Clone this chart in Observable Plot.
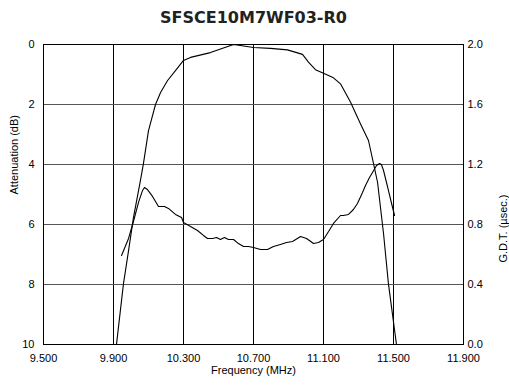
<!DOCTYPE html>
<html>
<head>
<meta charset="utf-8">
<script src="https://cdn.jsdelivr.net/npm/d3@7"></script>
<script src="https://cdn.jsdelivr.net/npm/@observablehq/plot@0.6"></script>
<style>
  html, body { margin: 0; padding: 0; background: #fff; }
  #chart svg text { font-family: "Liberation Sans", Arial, Helvetica, sans-serif; }
  #chart svg g.title text { font-family: "DejaVu Sans", Verdana, sans-serif; }
</style>
</head>
<body>
<div id="chart"></div>
<script>
const title = "SFSCE10M7WF03-R0";
const xLabel = "Frequency (MHz)";
const yLeftLabel = "Attenuation (dB)";
const yRightLabel = "G.D.T. (µsec.)";

const xTicks = [9.5, 9.9, 10.3, 10.7, 11.1, 11.5, 11.9];
const attTicks = [0, 2, 4, 6, 8, 10];
const gdtTicks = [2.0, 1.6, 1.2, 0.8, 0.4, 0.0];

// Attenuation curve (dB)
const attFreq = [9.917, 9.957, 9.986, 10.014, 10.054, 10.071, 10.1, 10.14, 10.169, 10.209, 10.254, 10.3, 10.34, 10.454, 10.586, 10.7, 10.797, 10.894, 10.98, 11.014, 11.054, 11.1, 11.157, 11.197, 11.254, 11.311, 11.357, 11.386, 11.409, 11.443, 11.471, 11.517];
const attVal  = [10, 7.97, 6.87, 5.77, 4.53, 3.97, 2.87, 2.0, 1.6, 1.2, 0.87, 0.53, 0.43, 0.27, 0, 0.1, 0.13, 0.18, 0.33, 0.59, 0.84, 0.96, 1.11, 1.31, 1.92, 2.64, 3.2, 3.97, 4.6, 6.3, 7.97, 10];

// Group delay time curve (µsec)
const gdtFreq = [9.946, 9.986, 10.014, 10.043, 10.066, 10.077, 10.094, 10.123, 10.157, 10.191, 10.214, 10.254, 10.289, 10.3, 10.34, 10.38, 10.414, 10.437, 10.466, 10.489, 10.511, 10.534, 10.557, 10.586, 10.614, 10.643, 10.671, 10.7, 10.74, 10.78, 10.814, 10.854, 10.889, 10.923, 10.969, 11.003, 11.043, 11.071, 11.1, 11.129, 11.157, 11.197, 11.214, 11.243, 11.271, 11.294, 11.323, 11.34, 11.363, 11.38, 11.403, 11.42, 11.431, 11.443, 11.46, 11.471, 11.489, 11.506];
const gdtVal  = [0.593, 0.707, 0.82, 0.947, 1.027, 1.047, 1.033, 0.987, 0.92, 0.92, 0.907, 0.867, 0.847, 0.813, 0.787, 0.76, 0.727, 0.707, 0.707, 0.713, 0.7, 0.713, 0.7, 0.7, 0.673, 0.653, 0.653, 0.647, 0.633, 0.633, 0.653, 0.667, 0.68, 0.687, 0.72, 0.707, 0.673, 0.68, 0.7, 0.753, 0.807, 0.86, 0.86, 0.867, 0.9, 0.94, 1.013, 1.06, 1.113, 1.147, 1.193, 1.207, 1.2, 1.16, 1.08, 1.027, 0.94, 0.86];

const attData = attFreq.map((f, i) => ({f, v: attVal[i]}));
// map GDT (0..2 µs, bottom..top) onto the attenuation scale (10..0 dB)
const gdtToAtt = g => 10 - 5 * g;
const gdtData = gdtFreq.map((f, i) => ({f, v: gdtToAtt(gdtVal[i])}));

const chart = Plot.plot({
  width: 509,
  height: 388,
  marginLeft: 43,
  marginRight: 46,
  marginTop: 44,
  marginBottom: 44,
  style: {fontFamily: "Liberation Sans, Arial, sans-serif", fontSize: "11px", color: "#000", background: "#fff", overflow: "visible"},
  x: {domain: [9.5, 11.9]},
  y: {domain: [0, 10], reverse: true},
  marks: [
    Plot.gridX(xTicks, {stroke: "#000", strokeOpacity: 1}),
    Plot.gridY(attTicks, {stroke: "#555", strokeOpacity: 1}),
    Plot.frame({stroke: "#000"}),
    Plot.axisX(xTicks, {tickSize: 0, tickPadding: 10, tickFormat: d => d.toFixed(3), label: null}),
    Plot.axisY(attTicks, {anchor: "left", tickSize: 0, tickPadding: 9, tickFormat: d => String(d), label: null}),
    Plot.axisY(gdtTicks.map(gdtToAtt), {anchor: "right", tickSize: 0, tickPadding: 4, tickFormat: d => ((10 - d) / 5).toFixed(1), label: null}),
    Plot.line(attData, {x: "f", y: "v", stroke: "#000", strokeWidth: 1.1, clip: true}),
    Plot.line(gdtData, {x: "f", y: "v", stroke: "#000", strokeWidth: 1.1, clip: true}),
    Plot.text([title], {text: d => d, frameAnchor: "top", dy: -27, lineAnchor: "middle", fontSize: 16, fontWeight: "bold", fill: "#222", className: "title"}),
    Plot.text([xLabel], {text: d => d, frameAnchor: "bottom", dy: 29}),
    Plot.text([yLeftLabel], {text: d => d, frameAnchor: "left", dx: -29, rotate: -90}),
    Plot.text([yRightLabel], {text: d => d, frameAnchor: "right", dx: 40, rotate: -90})
  ]
});
document.getElementById("chart").appendChild(chart);
</script>
</body>
</html>
